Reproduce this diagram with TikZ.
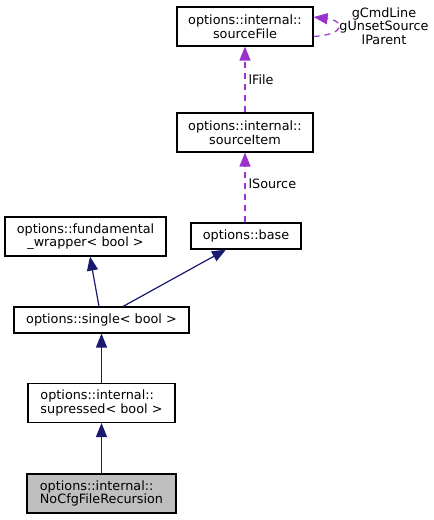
\documentclass[tikz,border=0pt]{standalone}
\usepackage{fontspec}
\setmainfont{DejaVu Sans}
\usetikzlibrary{arrows.meta}
\definecolor{navyedge}{HTML}{191970}
\definecolor{purpedge}{HTML}{9A32CD}
\definecolor{grayfill}{HTML}{BFBFBF}
\begin{document}
\begin{tikzpicture}[x=1pt,y=-1pt,
  box/.style={draw=black,line width=1.1pt,fill=white,inner sep=0pt,
    minimum height=39pt,font=\fontsize{12.8}{13.6}\selectfont},
  boxc/.style={box,align=center},
  boxl/.style={box,align=left},
  inh/.style={draw=navyedge,line width=1.2pt,-{Triangle[length=14pt,width=11pt,fill=navyedge]}},
  usage/.style={draw=purpedge,line width=1.2pt,dash pattern=on 6pt off 5pt,
    -{Triangle[length=14pt,width=11pt,fill=purpedge]}},
  elabel/.style={font=\fontsize{12.8}{13.6}\selectfont,inner sep=0pt}]
\useasboundingbox (0,0) rectangle (434,520);
\node[boxc,minimum width=136pt] (sf) at (245,26.5) {options::internal::\\sourceFile};
\node[boxc,minimum width=136pt] (si) at (245,132.5) {options::internal::\\sourceItem};
\node[boxc,minimum width=110pt,minimum height=26pt] (base) at (246,236) {options::base};
\node[boxc,minimum width=161pt] (fund) at (85.5,236.5) {options::fundamental\\\_wrapper< bool >};
\node[boxc,minimum width=175pt,minimum height=26pt] (single) at (101.5,320) {options::single< bool >};
\node[boxl,minimum width=147pt] (supr) at (101.5,403) {options::internal::\\supressed< bool >};
\node[boxl,minimum width=149pt,fill=grayfill] (nocfg) at (101.5,493.5) {options::internal::\\NoCfgFileRecursion};
\draw[inh] (nocfg) -- (supr);
\draw[inh] (supr) -- (single);
\draw[inh] ([xshift=-2.5pt]single.north) -- ([xshift=4.5pt]fund.south);
\draw[inh] ([xshift=21.5pt]single.north) -- ([xshift=-20pt]base.south);
\draw[usage] ([xshift=-1pt]base.north) -- node[elabel,right=3pt,pos=0.55] (ls) {lSource} (si.south);
\draw[usage] (si.north) -- node[elabel,right=3pt,pos=0.5] (lf) {lFile} (sf.south);
\draw[usage] ([yshift=-10pt]sf.east) .. controls +(32,-2) and +(32,4) .. ([yshift=9.5pt]sf.east);
\node[elabel,align=center] (selflbl) at (384,26) {gCmdLine\\gUnsetSource\\lParent};
\end{tikzpicture}
\end{document}
